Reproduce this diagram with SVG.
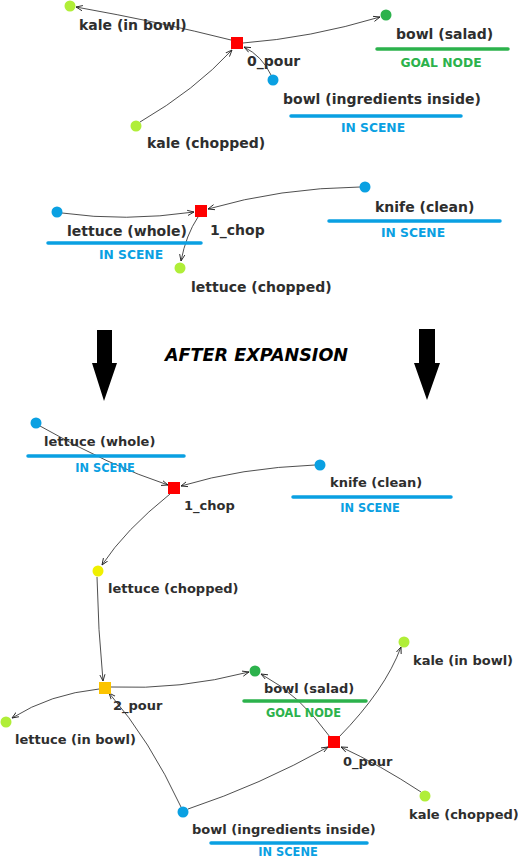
<svg xmlns="http://www.w3.org/2000/svg" width="518" height="860" viewBox="0 0 518 860">
<defs>
<marker id="arr" viewBox="0 0 8 8" refX="7.5" refY="4" markerWidth="7" markerHeight="7" markerUnits="userSpaceOnUse" orient="auto">
<path d="M0,1 L7.5,4 L0,7" fill="none" stroke="#222" stroke-width="1"/>
</marker>
<style>
.lbl{font-family:"DejaVu Sans",Verdana,sans-serif;font-weight:bold;fill:#2e2e2e;font-size:14px}
.sm{font-size:13px}
.tag{font-family:"DejaVu Sans",Verdana,sans-serif;font-weight:bold;font-size:12.3px;text-anchor:middle}
.tagsm{font-size:11.4px}
.scene{fill:#0aa0e2}
.goal{fill:#2cb24c}
.ul{stroke-width:3.5;stroke-linecap:round;fill:none}
.ulb{stroke:#0aa0e2}
.ulg{stroke:#2cb24c}
.e{fill:none;stroke:#222;stroke-width:0.8;marker-end:url(#arr)}
.lg{fill:#b0ee38}
.dg{fill:#2cb24c}
.bl{fill:#0aa0e2}
.ye{fill:#f0f000}
.rd{fill:#ff0000}
.og{fill:#fcc400}
</style>
</defs>
<rect width="518" height="860" fill="#ffffff"/>

<g id="connectors">
<path class="e" d="M231,40 Q160,22 76,7"/>
<path class="e" d="M243,43 Q310,38 380,17"/>
<path class="e" d="M140,122 Q195,90 232,50"/>
<path class="e" d="M271,75 Q262,56 244,47"/>
<path class="e" d="M62,213 Q125,222 194,212"/>
<path class="e" d="M360,187 Q280,188 208,209"/>
<path class="e" d="M198,217 Q186,235 181,261"/>
<path class="e" d="M40,426 Q110,466 168,485"/>
<path class="e" d="M315,465 Q240,468 181,486"/>
<path class="e" d="M170,494 Q125,530 102,565"/>
<path class="e" d="M97,577 Q98,630 103,681"/>
<path class="e" d="M99,689 Q50,694 12,718"/>
<path class="e" d="M111,687 Q180,690 249,672"/>
<path class="e" d="M330,737 Q300,695 261,674"/>
<path class="e" d="M339,737 Q385,690 401,647"/>
<path class="e" d="M421,792 Q380,765 341,747"/>
<path class="e" d="M188,809 Q260,785 328,747"/>
<path class="e" d="M181,807 Q150,740 109,693"/>
</g>

<!-- Top graph -->
<g id="top-kale-in-bowl"><circle class="lg" cx="70" cy="6" r="5.5"/><text class="lbl" x="79" y="30">kale (in bowl)</text></g>
<g id="top-0-pour"><rect class="rd" x="231" y="37" width="12" height="12"/><text class="lbl" x="247" y="66">0_pour</text></g>
<g id="top-bowl-salad"><circle class="dg" cx="386" cy="15" r="5.5"/><text class="lbl" x="396" y="39">bowl (salad)</text><line class="ul ulg" x1="377" y1="49" x2="508" y2="49"/><text class="tag goal" x="441" y="67">GOAL NODE</text></g>
<g id="top-bowl-ingredients"><circle class="bl" cx="273" cy="80" r="5.5"/><text class="lbl" x="283" y="104">bowl (ingredients inside)</text><line class="ul ulb" x1="291" y1="116" x2="461" y2="116"/><text class="tag scene" x="373" y="132">IN SCENE</text></g>
<g id="top-kale-chopped"><circle class="lg" cx="136" cy="126" r="5.5"/><text class="lbl" x="147" y="148">kale (chopped)</text></g>

<!-- Middle graph -->
<g id="mid-lettuce-whole"><circle class="bl" cx="57" cy="212" r="5.5"/><text class="lbl" x="67" y="236">lettuce (whole)</text><line class="ul ulb" x1="48" y1="243" x2="201" y2="243"/><text class="tag scene" x="131" y="259">IN SCENE</text></g>
<g id="mid-1-chop"><rect class="rd" x="195" y="205" width="12" height="12"/><text class="lbl" x="210" y="235">1_chop</text></g>
<g id="mid-knife"><circle class="bl" cx="365" cy="187" r="5.5"/><text class="lbl" x="375" y="212">knife (clean)</text><line class="ul ulb" x1="329" y1="221" x2="500" y2="221"/><text class="tag scene" x="413" y="237">IN SCENE</text></g>
<g id="mid-lettuce-chopped"><circle class="lg" cx="180" cy="268" r="5.5"/><text class="lbl" x="191" y="292">lettuce (chopped)</text></g>

<!-- Expansion arrows -->
<g id="expansion">
<polygon fill="#000" points="97,330 112,330 112,363 117,363 104,401 92,363 97,363"/>
<polygon fill="#000" points="419,329 435,329 435,363 440,363 427,400 414,363 419,363"/>
<text x="165" y="361" textLength="183" lengthAdjust="spacingAndGlyphs" style="font-family:'DejaVu Sans',Verdana,sans-serif;font-weight:bold;font-style:italic;font-size:18px;fill:#000">AFTER EXPANSION</text>
</g>

<!-- Bottom graph -->
<g id="bot-lettuce-whole"><circle class="bl" cx="36" cy="423" r="5.5"/><text class="lbl sm" x="44" y="446">lettuce (whole)</text><line class="ul ulb" x1="28" y1="456" x2="184" y2="456"/><text class="tag tagsm scene" x="105" y="472">IN SCENE</text></g>
<g id="bot-1-chop"><rect class="rd" x="168" y="482" width="12" height="12"/><text class="lbl sm" x="184" y="510">1_chop</text></g>
<g id="bot-knife"><circle class="bl" cx="320" cy="465" r="5.5"/><text class="lbl sm" x="330" y="487">knife (clean)</text><line class="ul ulb" x1="293" y1="497" x2="451" y2="497"/><text class="tag tagsm scene" x="370" y="512">IN SCENE</text></g>
<g id="bot-lettuce-chopped"><circle class="ye" cx="98" cy="571" r="5.5"/><text class="lbl sm" x="108" y="593">lettuce (chopped)</text></g>
<g id="bot-2-pour"><rect class="og" x="99" y="682" width="12" height="12"/><text class="lbl sm" x="113" y="710">2_pour</text></g>
<g id="bot-lettuce-in-bowl"><circle class="lg" cx="6" cy="722" r="5.5"/><text class="lbl sm" x="15" y="744">lettuce (in bowl)</text></g>
<g id="bot-bowl-salad"><circle class="dg" cx="255" cy="671" r="5.5"/><text class="lbl sm" x="264" y="693">bowl (salad)</text><line class="ul ulg" x1="244" y1="701" x2="366" y2="701"/><text class="tag tagsm goal" x="303.5" y="717">GOAL NODE</text></g>
<g id="bot-0-pour"><rect class="rd" x="328" y="736" width="12" height="12"/><text class="lbl sm" x="343" y="766">0_pour</text></g>
<g id="bot-kale-in-bowl"><circle class="lg" cx="404" cy="642" r="5.5"/><text class="lbl sm" x="413" y="665">kale (in bowl)</text></g>
<g id="bot-kale-chopped"><circle class="lg" cx="425" cy="796" r="5.5"/><text class="lbl sm" x="409" y="819">kale (chopped)</text></g>
<g id="bot-bowl-ingredients"><circle class="bl" cx="183" cy="812" r="5.5"/><text class="lbl sm" x="192" y="834">bowl (ingredients inside)</text><line class="ul ulb" x1="211" y1="843" x2="367" y2="843"/><text class="tag tagsm scene" x="288" y="856">IN SCENE</text></g>
</svg>
